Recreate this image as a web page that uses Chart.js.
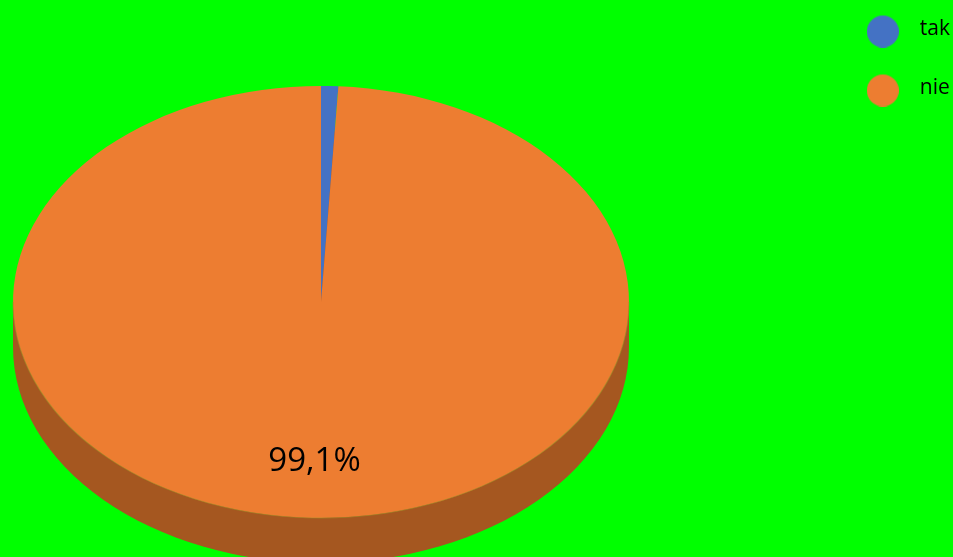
<!DOCTYPE html>
<html>
<head>
    <meta charset="UTF-8">
    <title>tak / nie</title>
    <script src="https://cdn.jsdelivr.net/npm/chart.js"></script>
    <style>
        html, body {
            margin: 0;
            padding: 0;
            background-color: #00ff00;
            overflow: hidden;
        }
        .chart-container {
            position: relative;
            width: 953px;
            height: 557px;
        }
    </style>
</head>
<body>
    <div class="chart-container">
        <canvas id="pieChart"></canvas>
    </div>

    <script>
        const categories = ['tak', 'nie'];
        const values = [0.9, 99.1];
        const sliceColors = ['#4472c4', '#ed7d31'];
        const shownLabels = [false, true];

        // the tilted disc: where the top face goes on the page
        const disc = { cx: 321, cy: 302, rx: 308, ry: 216, depth: 45, side: '#a55720' };
        const labelFont = '"Open Sans", "Noto Sans", sans-serif';

        // legend marker bigger than the font, so it has to be a small canvas
        // (circle sits 2px below the canvas middle, the text is a bit higher than the dot)
        function marker(color) {
            const c = document.createElement('canvas');
            c.width = 32;
            c.height = 36;
            const g = c.getContext('2d');
            g.fillStyle = color;
            g.beginPath();
            g.arc(16, 20, 16, 0, Math.PI * 2);
            g.fill();
            return c;
        }

        // page position of a point given in the chart's own pie coordinates
        function toPage(arc, x, y) {
            return {
                x: disc.cx + (x - arc.x) * disc.rx / arc.outerRadius,
                y: disc.cy + (y - arc.y) * disc.ry / arc.outerRadius
            };
        }

        const tiltPlugin = {
            id: 'tilt',
            afterLayout(chart) {
                // legend sits higher and tighter to the edge than the default box
                chart.legend.top -= 19;
                chart.legend.left += 7;
            },
            beforeDatasetsDraw(chart) {
                const arc = chart.getDatasetMeta(0).data[0];
                const ctx = chart.ctx;
                const sx = disc.rx / arc.outerRadius;
                const sy = disc.ry / arc.outerRadius;
                ctx.save();
                ctx.translate(disc.cx, disc.cy);
                ctx.scale(sx, sy);
                ctx.translate(-arc.x, -arc.y);
                // side wall under the disc
                const d = disc.depth / sy;
                ctx.fillStyle = disc.side;
                ctx.beginPath();
                ctx.arc(arc.x, arc.y + d, arc.outerRadius, 0, Math.PI * 2);
                ctx.fill();
                ctx.fillRect(arc.x - arc.outerRadius, arc.y, arc.outerRadius * 2, d);
            },
            afterDatasetsDraw(chart) {
                const ctx = chart.ctx;
                const first = chart.getDatasetMeta(0).data[0];
                // thin olive seam where the disc meets the wall
                ctx.strokeStyle = 'rgba(150,150,40,0.55)';
                ctx.lineWidth = 1;
                ctx.beginPath();
                ctx.arc(first.x, first.y, first.outerRadius, 0, Math.PI);
                ctx.stroke();
                ctx.restore();
                // value labels, only on the slices that show one
                chart.getDatasetMeta(0).data.forEach((arc, i) => {
                    if (!shownLabels[i]) return;
                    const mid = (arc.startAngle + arc.endAngle) / 2;
                    const r = arc.outerRadius * 0.74;
                    const p = toPage(arc, arc.x + Math.cos(mid) * r, arc.y + Math.sin(mid) * r);
                    ctx.save();
                    ctx.font = '33px ' + labelFont;
                    ctx.fillStyle = '#000';
                    ctx.textAlign = 'center';
                    ctx.textBaseline = 'middle';
                    ctx.fillText(values[i].toFixed(1).replace('.', ',') + '%', p.x, p.y);
                    ctx.restore();
                });
            }
        };

        new Chart(document.getElementById('pieChart').getContext('2d'), {
            type: 'pie',
            data: {
                labels: categories,
                datasets: [{
                    data: values,
                    backgroundColor: sliceColors,
                    borderWidth: 0
                }]
            },
            plugins: [tiltPlugin],
            options: {
                responsive: true,
                maintainAspectRatio: false,
                animation: false,
                plugins: {
                    tooltip: { enabled: false },
                    legend: {
                        position: 'right',
                        align: 'start',
                        labels: {
                            color: '#000',
                            font: { family: labelFont, size: 21 },
                            usePointStyle: true,
                            pointStyleWidth: 53,
                            padding: 38,
                            generateLabels() {
                                return categories.map((name, i) => ({
                                    text: name,
                                    fontColor: '#000',
                                    fillStyle: sliceColors[i],
                                    strokeStyle: sliceColors[i],
                                    lineWidth: 0,
                                    pointStyle: marker(sliceColors[i]),
                                    index: i
                                }));
                            }
                        }
                    }
                }
            }
        });
    </script>
</body>
</html>
